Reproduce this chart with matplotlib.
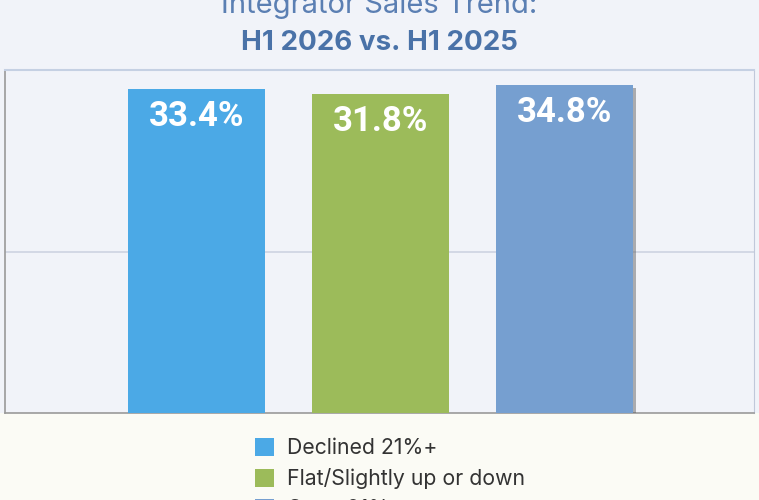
import matplotlib
matplotlib.use("Agg")
import matplotlib.pyplot as plt
import matplotlib.patheffects as pe
from matplotlib.patches import Rectangle, Patch

# data
categories = ["Declined 21%+", "Flat/Slightly up or down", "Grew 21%+"]
values = [33.4, 31.8, 34.8]
bar_colors = ["#4ba9e6", "#9cbb5a", "#769fd0"]
title_top = "Integrator Sales Trend:"
title_bottom = "H1 2026 vs. H1 2025"

W, H = 759, 500
fig = plt.figure(figsize=(W / 100, H / 100), dpi=100, facecolor="#fbfbf5")

# lavender panel behind title and plot
fig.patches.append(Rectangle((0, (H - 413) / H), 1, 413 / H, transform=fig.transFigure,
                             facecolor="#f1f3f9", edgecolor="none", zorder=-5))

ax = fig.add_axes([5 / W, (H - 413) / H, (754 - 5) / W, (413 - 70) / H])
ax.set_facecolor("#f1f3f9")
ax.set_zorder(2)

base = -74.5
x = list(range(len(values)))
bars = ax.bar(x, [v - base for v in values], bottom=base, width=0.745,
              color=bar_colors, zorder=3)
bars[2].set_path_effects([pe.SimplePatchShadow(offset=(2, -2), alpha=0.45, shadow_rgbFace="#555555"),
                          pe.Normal()])

ax.set_xlim(-1.04, 3.03)
ax.set_ylim(base, 39.8)
ax.axhline(-20.9, color="#cdd3e2", lw=1.2, zorder=1)

for xi, v in zip(x, values):
    ax.annotate(f"{v}%", (xi, v), xytext=(0, -27.5), textcoords="offset pixels",
                ha="center", va="center", color="white", fontsize=25,
                fontweight="bold", family="Roboto", zorder=4)

ax.set_xticks([])
ax.set_yticks([])
for s in ["left", "bottom"]:
    ax.spines[s].set_color("#9a9a9a")
    ax.spines[s].set_linewidth(1.2)
ax.spines["right"].set_color("#c0c8da")
ax.spines["top"].set_color("#c5d0e3")
ax.spines["top"].set_linewidth(1.5)

# titles
fig.text(0.5, 1 - 13 / H, title_top, ha="center", va="baseline", color="#5b7fb3",
         fontsize=21, family="Inter")
fig.text(0.5, 1 - 43 / H, title_bottom, ha="center", va="center", color="#4a72a8",
         fontsize=20, fontweight="bold", family="Inter")

# legend (third row runs off the bottom like the reference)
handles = [Patch(facecolor=c, edgecolor="none") for c in bar_colors]
leg = fig.legend(handles, categories, loc="upper left", bbox_to_anchor=(236 / W, 1 - 419 / H),
                 frameon=False, handlelength=0.9, handleheight=0.9, handletextpad=0.6,
                 labelspacing=0.47, prop={"family": "Inter", "size": 15.3})
for t in leg.get_texts():
    t.set_color("#333333")

fig.savefig("out.png", dpi=100, facecolor=fig.get_facecolor())
